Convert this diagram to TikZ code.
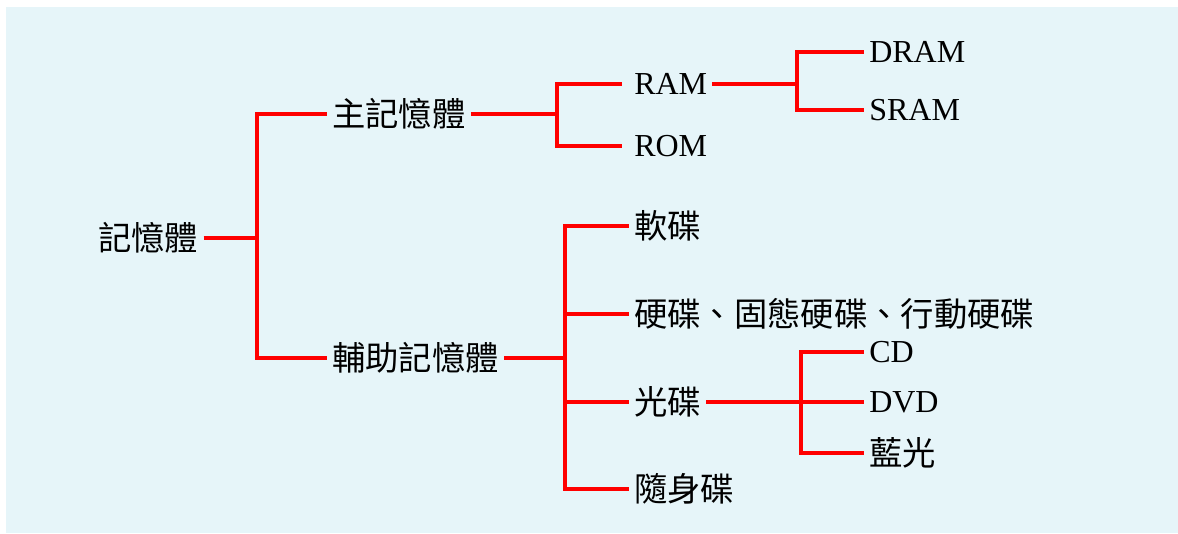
\documentclass[tikz,border=0pt]{standalone}
\usepackage{fontspec}
\setmainfont{Liberation Serif}
\newfontfamily\cjkfont{Noto Sans CJK TC}
\usepackage{tikz}
\definecolor{bgblue}{RGB}{230,245,249}
\tikzset{
	lat/.style={anchor=west, inner sep=0pt, inner xsep=3.75pt, font=\fontsize{24pt}{28pt}\selectfont},
	zh/.style={anchor=west, inner sep=0pt, inner xsep=3.75pt, font=\cjkfont\fontsize{25pt}{30pt}\selectfont},
	br/.style={draw=red, line width=2.3pt}
}

\begin{document}
\begin{tikzpicture}[x=0.75pt, y=-0.75pt]
			%%%%% START %%%%%
			
			\useasboundingbox (0, 0) rectangle (1178, 533);
			\fill[bgblue] (6, 7) rectangle (1178, 533);
			
			\node[zh] (mem) at (93, 238) {記憶體};
			\node[zh] (main) at (327, 114) {主記憶體};
			\node[zh] (aux) at (327, 358) {輔助記憶體};
			
			\node[lat] (ram) at (629, 84) {RAM};
			\node[lat] (rom) at (629, 146) {ROM};
			\node[lat] (dram) at (864, 52) {DRAM};
			\node[lat] (sram) at (864, 110) {SRAM};
			
			\node[zh] (floppy) at (629, 226) {軟碟};
			\node[zh] (hdd) at (629, 314) {硬碟、固態硬碟、行動硬碟};
			\node[zh] (disc) at (629, 402) {光碟};
			\node[zh] (usb) at (629, 489) {隨身碟};
			
			\node[lat] (cd) at (864, 352) {CD};
			\node[lat] (dvd) at (864, 402) {DVD};
			\node[zh] (blu) at (864, 453) {藍光};
			
			\coordinate (j0) at (257, 238);
			\coordinate (j1) at (557, 114);
			\coordinate (j2) at (797, 84);
			\coordinate (j3) at (565, 358);
			\coordinate (j4) at (801, 402);
			
			\draw[br] (mem.east) -- (j0);
			\draw[br] (j0) |- (main.west);
			\draw[br] (j0) |- (aux.west);
			
			\draw[br] (main.east) -- (j1);
			\draw[br, shorten >=5pt] (j1) |- (ram.west);
			\draw[br, shorten >=5pt] (j1) |- (rom.west);
			
			\draw[br] (ram.east) -- (j2);
			\draw[br] (j2) |- (dram.west);
			\draw[br] (j2) |- (sram.west);
			
			\draw[br] (aux.east) -- (j3);
			\draw[br] (j3) |- (floppy.west);
			\draw[br] (j3) |- (hdd.west);
			\draw[br] (j3) |- (disc.west);
			\draw[br] (j3) |- (usb.west);
			
			\draw[br] (disc.east) -- (j4);
			\draw[br] (j4) |- (cd.west);
			\draw[br] (j4) |- (dvd.west);
			\draw[br] (j4) |- (blu.west);
			
			%%%%% END %%%%%
\end{tikzpicture}
\end{document}
